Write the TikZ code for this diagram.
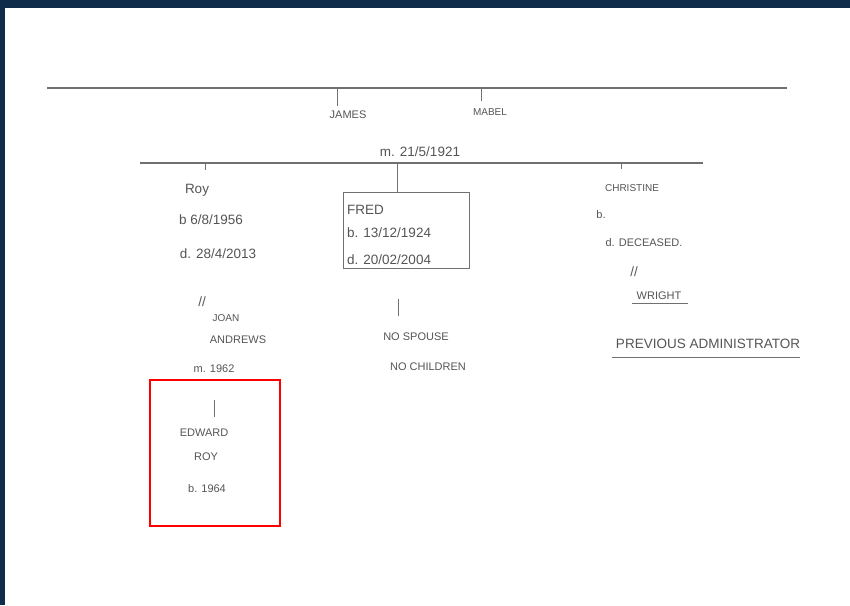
\documentclass[tikz,border=0pt]{standalone}
\usepackage{fontspec}
\setmainfont{Liberation Sans}
\definecolor{navy}{HTML}{0F2D4A}
\definecolor{ink}{HTML}{555555}
\definecolor{rule}{HTML}{707070}
\begin{document}
\begin{tikzpicture}[x=1pt,y=-1pt,
  hand/.style={text=ink,font=\fontsize{11}{12}\selectfont,inner sep=0pt},
  small/.style={hand,font=\fontsize{10}{11}\selectfont},
  big/.style={hand,font=\fontsize{13.5}{14}\selectfont},
  line/.style={draw=rule,line width=1.2pt},
  tick/.style={draw=rule,line width=1pt},
  redbox/.style={draw=red,line width=2.5pt}]
\useasboundingbox (0,0) rectangle (850,605);
\fill[navy] (0,0) rectangle (850,605);
\fill[white] (5,8) rectangle (850,605);
% top generation
\coordinate (tl) at (47,88); \coordinate (tr) at (787,88);
\draw[line] (tl) -- (tr);
\coordinate (jtop) at (337,88); \coordinate (jbot) at (337,106);
\coordinate (mtop) at (481,88); \coordinate (mbot) at (481,101);
\draw[tick] (jtop) -- (jbot);
\draw[tick] (mtop) -- (mbot);
\node[hand] (james) at (348,115) {JAMES};
\node[small] (mabel) at (490,112) {MABEL};
\node[big] (marr) at (420,152) {m. 21/5/1921};
% second generation line
\coordinate (sl) at (140,163); \coordinate (sr) at (703,163);
\draw[line] (sl) -- (sr);
\coordinate (rtop) at (205,163); \coordinate (rbot) at (205,170);
\coordinate (ftop) at (397,163);
\coordinate (ctop) at (621,163); \coordinate (cbot) at (621,169);
\draw[tick] (rtop) -- (rbot);
\draw[tick] (ctop) -- (cbot);
% Roy
\node[big] (roy) at (197,190) {Roy};
\node[big] (royb) at (211,220) {b 6/8/1956};
\node[big] (royd) at (218,254) {d. 28/4/2013};
% Fred box
\node[draw=rule,line width=1pt,minimum width=126pt,minimum height=76pt,inner sep=0pt] (fred) at (406,230) {};
\draw[tick] (ftop) -- (ftop |- fred.north);
\node[big,anchor=west] (fredn) at (347,210) {FRED};
\node[big,anchor=west] (fredb) at (347,233) {b. 13/12/1924};
\node[big,anchor=west] (fredd) at (347,260) {d. 20/02/2004};
% Christine
\node[small] (chris) at (632,188) {CHRISTINE};
\node[hand] (chrisb) at (601,215) {b.};
\node[hand] (chrisd) at (644,243) {d. DECEASED.};
\node[big] (chrism) at (634,272) {//};
\node[hand] (wright) at (659,296) {WRIGHT};
\draw[tick] (632,303) -- (688,303);
\node[big] (prev) at (708,344) {PREVIOUS ADMINISTRATOR};
\draw[tick] (612,357) -- (800,357);
% Roy spouse
\node[big] (roym) at (202,302) {//};
\node[small] (joan) at (226,318) {JOAN};
\node[hand] (andrews) at (238,340) {ANDREWS};
\node[hand] (royy) at (214,369) {m. 1962};
% Fred no spouse
\coordinate (fbt) at (398,299); \coordinate (fbb) at (398,316);
\draw[tick] (fbt) -- (fbb);
\node[hand] (nosp) at (416,337) {NO SPOUSE};
\node[hand] (noch) at (428,367) {NO CHILDREN};
% Edward
\node[redbox,minimum width=130pt,minimum height=146pt,inner sep=0pt] (ebox) at (215,453) {};
\coordinate (ebt) at (214,400); \coordinate (ebb) at (214,417);
\draw[tick] (ebt) -- (ebb);
\node[hand] (edw) at (204,433) {EDWARD};
\node[hand] (eroy) at (206,457) {ROY};
\node[hand] (eb) at (207,489) {b. 1964};
\end{tikzpicture}
\end{document}
